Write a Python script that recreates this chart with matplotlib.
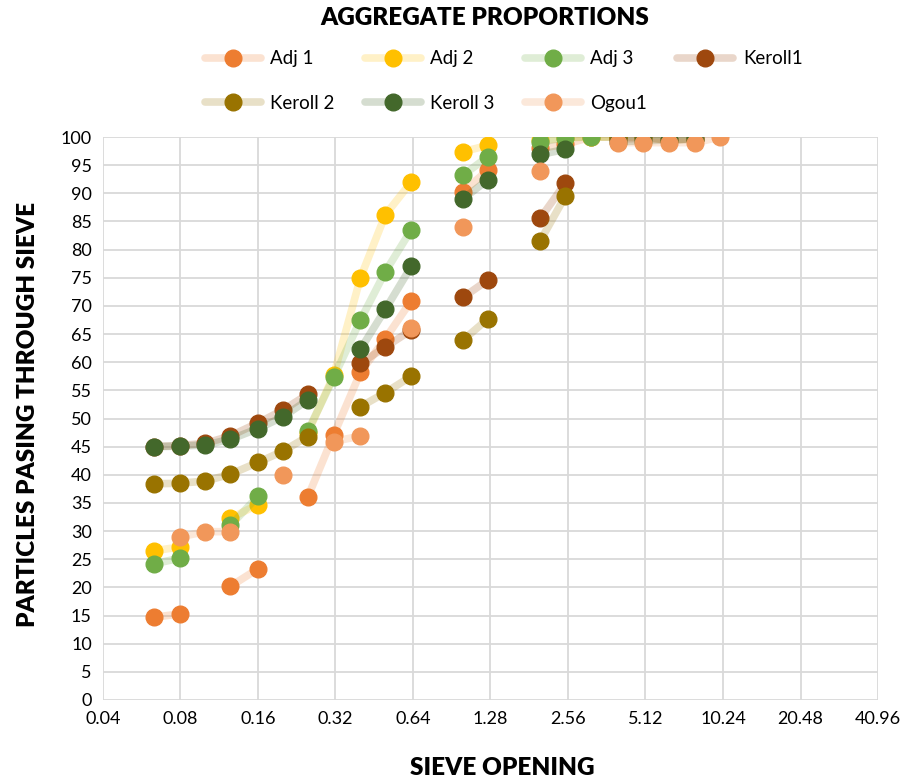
import numpy as np
import matplotlib
matplotlib.use("Agg")
import matplotlib.pyplot as plt
from matplotlib.colors import to_rgba

plt.rcParams['font.family'] = ['Lato', 'DejaVu Sans']

nan = np.nan
sieves = [0.063, 0.08, 0.1, 0.125, 0.16, 0.2, 0.25, 0.315, 0.4, 0.5, 0.63, 0.8,
          1.0, 1.25, 1.6, 2.0, 2.5, 3.15, 4.0, 5.0, 6.3, 8.0, 10.0]

adj1 = [14.7, 15.3, nan, 20.2, 23.3, nan, 36.1, 47.1, 58.2, 64.2, 70.9, nan,
        90.3, 94.1, nan, 98.0, 98.7, 100, 100, nan, nan, nan, nan]
adj2 = [26.5, 27.2, nan, 32.3, 34.7, nan, 47.5, 57.7, 75.0, 86.2, 92.0, nan,
        97.4, 98.5, nan, 99.4, 99.9, 100, 100, nan, nan, nan, nan]
adj3 = [24.2, 25.2, nan, 31.0, 36.2, nan, 47.8, 57.3, 67.5, 76.1, 83.5, nan,
        93.2, 96.5, nan, 99.1, 99.9, 100, 100, nan, nan, nan, nan]
keroll1 = [45.0, 45.2, 45.6, 46.9, 49.2, 51.5, 54.3, nan, 59.8, 62.7, 65.7, nan,
           71.5, 74.6, nan, 85.6, 91.8, nan, 99.6, 99.8, 99.5, 99.7, nan]
keroll2 = [38.4, 38.5, 38.9, 40.1, 42.2, 44.2, 46.8, nan, 52.1, 54.6, 57.5, nan,
           63.9, 67.7, nan, 81.6, 89.5, nan, 100, 100, 99.4, 99.6, nan]
keroll3 = [45.0, 45.1, 45.3, 46.3, 48.2, 50.3, 53.3, nan, 62.3, 69.4, 77.0, nan,
           89.0, 92.4, nan, 96.9, 97.8, nan, 99.2, 99.3, 99.5, 99.7, nan]
ogou1 = [nan, 29.0, 29.9, 29.9, nan, 40.0, nan, 45.9, 46.9, nan, 66.0, nan,
         84.1, nan, nan, 94.0, nan, nan, 99.0, 99.0, 99.0, 99.0, 100]

names = ["Adj 1", "Adj 2", "Adj 3", "Keroll1", "Keroll 2", "Keroll 3", "Ogou1"]
series = [adj1, adj2, adj3, keroll1, keroll2, keroll3, ogou1]
colors = ["#ED7D31", "#FFC000", "#70AD47", "#9E480E", "#997300", "#43682B", "#F1975A"]

xticks = [0.04 * 2 ** k for k in range(11)]
xticklabels = ["0.04", "0.08", "0.16", "0.32", "0.64", "1.28", "2.56", "5.12",
               "10.24", "20.48", "40.96"]

fig = plt.figure(figsize=(9.14, 7.81), dpi=100)
ax = fig.add_axes([103 / 914, 1 - 700 / 781, 775 / 914, 563 / 781])

handles = []
for name, vals, c in zip(names, series, colors):
    line_c = to_rgba(c, 0.22)
    h, = ax.plot(sieves, vals, color=line_c, lw=5.5, marker='o', ms=12,
                 mfc=c, mec=c, solid_capstyle='round', label=name)
    handles.append(h)

ax.set_xscale('log', base=2)
ax.set_xlim(0.04, 40.96)
ax.set_ylim(0, 100)
ax.set_xticks(xticks)
ax.set_xticklabels(xticklabels)
ax.minorticks_off()
ax.set_yticks(np.arange(0, 101, 5))
ax.tick_params(axis='both', length=0, labelsize=13, colors='#000000', pad=8)
ax.grid(True, color='#D9D9D9', lw=1.3)
ax.set_axisbelow(True)
for s in ax.spines.values():
    s.set_visible(False)

fig.text(0.53, 0.977, "AGGREGATE PROPORTIONS", ha='center', va='center',
         fontsize=17.5, fontweight='heavy')
fig.text(502 / 914, 1 - 768 / 781, "SIEVE OPENING", ha='center', va='center',
         fontsize=17.5, fontweight='heavy')
fig.text(28 / 914, 1 - 414 / 781, "PARTICLES PASING THROUGH SIEVE", ha='center',
         va='center', rotation=90, fontsize=17.5, fontweight='heavy')

order = [0, 4, 1, 5, 2, 6, 3]
fig.legend([handles[i] for i in order], [names[i] for i in order], ncol=4,
           loc='center', bbox_to_anchor=(0.551, 1 - 81 / 781), frameon=False,
           fontsize=13.5, handlelength=3.0, columnspacing=1.6, handletextpad=0.5,
           labelspacing=1.45)

fig.savefig("out.png", dpi=100)
